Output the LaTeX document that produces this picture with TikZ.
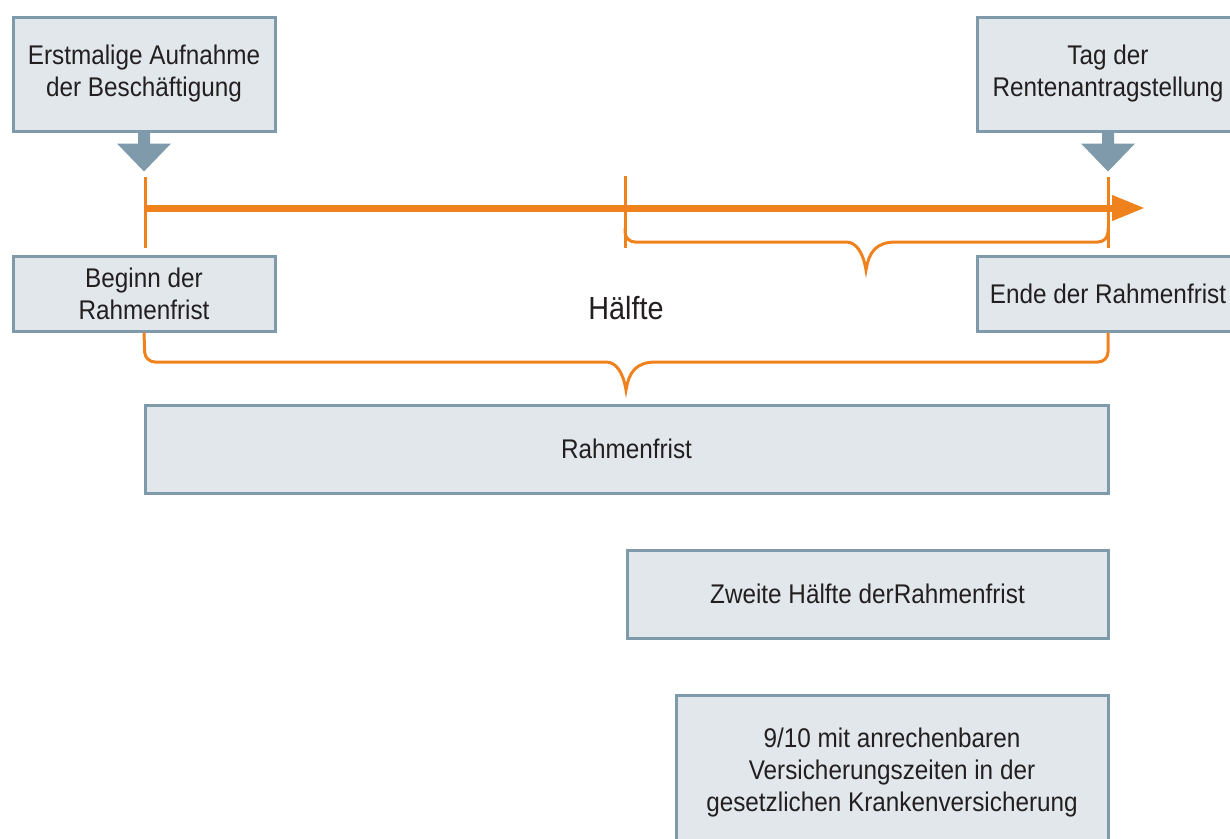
\documentclass[tikz,border=0pt]{standalone}
\usepackage{fontspec}
\setmainfont{Liberation Sans}[FakeStretch=0.9]
\usetikzlibrary{arrows.meta}
\definecolor{boxfill}{HTML}{E1E7EB}
\definecolor{boxline}{HTML}{7F9AAB}
\definecolor{orng}{HTML}{F0821E}
\definecolor{txt}{HTML}{231F20}
\tikzset{
  box/.style={draw=boxline, fill=boxfill, line width=3pt, text=txt, align=center,
    font=\fontsize{27}{32}\selectfont, inner sep=0pt},
  tickline/.style={draw=orng, line width=3pt},
  bracepath/.style={draw=orng, line width=3pt},
  blockarrow/.style={fill=boxline},
}
\begin{document}
\begin{tikzpicture}[x=1pt,y=-1pt]
\useasboundingbox (0,0) rectangle (1230,838);
% boxes
\node[box, minimum width=262pt, minimum height=114pt] (b1) at (144,74) {Erstmalige Aufnahme\\der Beschäftigung};
\node[box, minimum width=262pt, minimum height=114pt] (b2) at (1108,74) {Tag der\\Rentenantragstellung};
\node[box, minimum width=262pt, minimum height=75pt] (beg) at (144,293.5) {Beginn der\\Rahmenfrist};
\node[box, minimum width=262pt, minimum height=75pt] (end) at (1108,293.5) {Ende der Rahmenfrist};
\node[box, minimum width=963pt, minimum height=88pt] (rf) at (626.5,449) {Rahmenfrist};
\node[box, minimum width=481pt, minimum height=88pt] (zh) at (867.5,594) {Zweite Hälfte derRahmenfrist};
\node[box, minimum width=432pt, minimum height=156pt] (vz) at (892,773) {9/10 mit anrechenbaren\\Versicherungszeiten in der\\gesetzlichen Krankenversicherung};
\node[text=txt, font=\fontsize{32}{36}\selectfont] (hf) at (626,308) {Hälfte};
% block arrows
\fill[blockarrow] (b1.south) ++(-6,-2) -- ++(0,13) -- ++(-21,0) -- ++(27,28) -- ++(27,-28) -- ++(-21,0) -- ++(0,-13) -- cycle;
\fill[blockarrow] (b2.south) ++(-6,-2) -- ++(0,13) -- ++(-21,0) -- ++(27,28) -- ++(27,-28) -- ++(-21,0) -- ++(0,-13) -- cycle;
% timeline
\coordinate (t0) at (145,208);
\coordinate (t1) at (1145,208);
\draw[orng, line width=7pt, -{Triangle[length=33pt,width=24pt]}] (t0) -- (t1);
\draw[tickline] (145,177) -- (145,248);
\draw[tickline] (625,176) -- (625,248);
\draw[tickline] (1108,177) -- (1108,248);
% upper brace
\draw[bracepath] (625,228) [rounded corners=10pt] -- (625,242) -- (836,242) [sharp corners]
  .. controls (856,242) and (863,252) .. (866,270)
  .. controls (869,252) and (876,242) .. (896,242) [rounded corners=10pt] -- (1108,242) -- (1108,228);
% lower brace
\draw[bracepath] (beg.south) [rounded corners=10pt] -- (145,362) -- (596,362) [sharp corners]
  .. controls (616,362) and (623,372) .. (626,390)
  .. controls (629,372) and (636,362) .. (656,362) [rounded corners=10pt] -- (1108,362) -- (end.south);
\end{tikzpicture}
\end{document}
